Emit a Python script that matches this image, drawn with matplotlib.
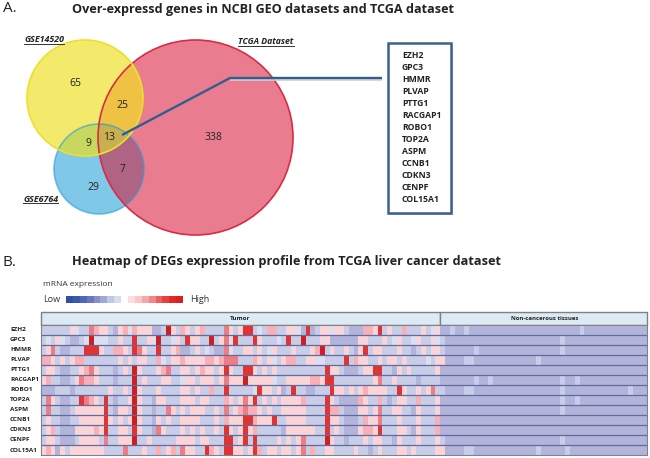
import numpy as np
import matplotlib
matplotlib.use("Agg")
import matplotlib.pyplot as plt
from matplotlib.colors import ListedColormap, BoundaryNorm
from matplotlib.patches import Circle, Polygon, Rectangle

genes = ["EZH2", "GPC3", "HMMR", "PLVAP", "PTTG1", "RACGAP1", "ROBO1", "TOP2A",
         "ASPM", "CCNB1", "CDKN3", "CENPF", "COL15A1"]
venn_counts = ["65", "25", "13", "9", "338", "7", "29"]
venn_names = ["GSE14520", "TCGA Dataset", "GSE6764"]

tumor_rows = [
    "1111113211 5433103424 3330017314 3134111153 1366121441 1332060133 2331000443 6131141113 123",
    "1213210012 7222113116 1132711231 6331171352 6111631112 1611711133 0000003311 1312311231 132",
    "1351001116 6631144316 5311611340 0131210052 1133131231 1131113471 3113103613 3111311013 133",
    "4431313441 1111113131 3311421334 3333443455 5111431321 3441133221 1116143311 3133131111 213",
    "1331001134 5311101317 3111345113 3134331363 1166313131 1111111116 3310001336 6110313111 113",
    "3411001354 4311101117 1311133112 3313331353 3373333321 1333334436 6111111113 5113111101 111",
    "0001110111 1111311317 3111311113 3131141161 1111263313 0161100111 6331313433 3311631131 351",
    "1531001165 4316101137 3110331113 3313311143 1353613131 3333411116 3100004311 4101331141 113",
    "1511001333 3336103317 3110115313 1333113151 3454431311 3333311116 4410003313 5113311031 113",
    "1311001133 3336313137 3110313113 3331113143 3366433361 1333311116 3310001433 5111311131 114",
    "1341000333 3436113316 3110531113 1313113163 1363411111 0333333116 1310003443 6111331031 114",
    "1331000133 3315113337 1131111133 3313311166 1361611113 1313511117 3110111313 3110311131 113",
    "3430313333 3331111511 1311413415 3311643166 3313641331 3313514113 3111131101 3111331311 113",
]
normal_light_cols = [
    [2, 5, 29], [0, 25], [0, 7, 25], [5, 6, 20], [], [7, 10, 25, 28], [0, 5, 6, 25, 39],
    [25, 28], [25], [], [], [0, 25], [5, 6, 20, 26],
]
normal_pink_cols = [[], [], [], [0], [], [], [], [], [], [], [], [], [0]]
n_normal = 43

legend_low = ["#3050a8", "#3a58ae", "#5068b8", "#6878c0", "#8890c8", "#a0a8d8", "#c0c8e8", "#d8dcf0"]
legend_high = ["#fcdcdc", "#f8c8c8", "#f4a8a8", "#f08888", "#e86060", "#e84040", "#e02828", "#d82020"]
level_colors = ["#b2b4da", "#c8cde8", "#dcdff0", "#fbd4d8", "#f8b0b6", "#ee7c84", "#e23232", "#cc1f24"]

FONT = "Open Sans"
plt.rcParams["font.family"] = FONT

fig = plt.figure(figsize=(6.5, 4.58), dpi=100)
ax = fig.add_axes([0, 0, 1, 1])
ax.set_xlim(0, 650)
ax.set_ylim(458, 0)
ax.axis("off")

Y = (85, 98, 58)
R = (195.5, 137.5, 97.5)
B = (99, 169, 45)


def region(circles, origin):
    th = np.linspace(0, 2 * np.pi, 360)
    d = np.c_[np.cos(th), np.sin(th)]
    ox, oy = origin
    rs = []
    for cx, cy, r in circles:
        fx, fy = ox - cx, oy - cy
        b = d[:, 0] * fx + d[:, 1] * fy
        c = fx * fx + fy * fy - r * r
        rs.append(-b + np.sqrt(b * b - c))
    rr = np.min(rs, axis=0)
    return np.c_[ox + rr * d[:, 0], oy + rr * d[:, 1]]


for c, col in [(B, "#80c8e8"), (Y, "#f3ea6c"), (R, "#e97c8e")]:
    ax.add_patch(Circle(c[:2], c[2], fc=col, ec="none", zorder=1))
for cs, o, col in [((Y, R), (122, 105), "#f0c244"), ((B, R), (123, 170), "#b06484"),
                   ((Y, B), (88, 144), "#c8d85e"), ((Y, R, B), (109, 138), "#c8b050")]:
    ax.add_patch(Polygon(region(cs, o), fc=col, ec="none", zorder=2))
for c, col, z, a in [(B, "#2a9ed8", 3, 0.6), (R, "#d82c44", 4, 1), (Y, "#ece02c", 5, 1)]:
    ax.add_patch(Circle(c[:2], c[2], fc="none", ec=col, lw=1.2, alpha=a, zorder=z))

for (x, y), s in zip([(75, 83), (122, 105), (109, 138), (88, 144), (213, 138), (123, 170), (93, 187)], venn_counts):
    ax.text(x, y, s, ha="center", va="center", fontsize=7.5, color="#222222", zorder=8)

for (x0, x1, y, fs), s in zip([(24, 64, 40, 6.4), (238, 294, 42, 6.2), (23, 58, 199, 6.4)], venn_names):
    ax.text(x0, y, s, ha="left", va="center", fontsize=fs, fontweight="bold", style="italic",
            color="#222222", zorder=8)
    ax.plot([x0, x1], [y + 4, y + 4], color="#333333", lw=0.7, zorder=8)

# connector and gene box
ax.plot([230, 382], [79.5, 79.5], color="#d0d0d0", lw=1.2, zorder=6, solid_capstyle="butt")
ax.plot([122, 230, 382], [135, 78, 78], color="#2f5f90", lw=1.7, zorder=7,
        solid_joinstyle="miter", solid_capstyle="butt")
ax.add_patch(Rectangle((390, 45), 63, 170, fc="#c8c8c8", ec="none", zorder=5))
ax.add_patch(Rectangle((388, 43), 63, 170, fc="white", ec="#3a6090", lw=1.8, zorder=6))
for i, g in enumerate(genes):
    ax.text(402, 55 + i * 12.08, g, ha="left", va="center", fontsize=6.2, fontweight="bold",
            color="#222222", zorder=8)

ax.text(3, 9, "A.", fontsize=11, va="center", color="#222222")
ax.text(3, 263, "B.", fontsize=11, va="center", color="#222222")
ax.text(72, 9, "Over-expressd genes in NCBI GEO datasets and TCGA dataset", fontsize=9.13,
        fontweight="bold", va="center", color="#222222")
ax.text(72, 262, "Heatmap of DEGs expression profile from TCGA liver cancer dataset", fontsize=9.15,
        fontweight="bold", va="center", color="#222222")

ax.text(43, 285, "mRNA expression", fontsize=6, va="center", color="#333333")
ax.text(43, 299, "Low", fontsize=6.5, va="center", color="#333333")
ax.text(190, 299.5, "High", fontsize=6.5, va="center", color="#333333")
for x0, cols in [(66, legend_low), (128, legend_high)]:
    w = 55 / len(cols)
    for i, col in enumerate(cols):
        ax.add_patch(Rectangle((x0 + i * w, 296), w, 7, fc=col, ec="none"))

for i, g in enumerate(genes):
    ax.text(10, 329.3 + i * 10.06, g, fontsize=4.6, fontweight="bold", va="center", color="#222222")

# header
ax.add_patch(Rectangle((41, 312), 399, 13, fc="#dceaf4", ec="#808080", lw=1))
ax.add_patch(Rectangle((440, 312), 207, 13, fc="#dceaf4", ec="#808080", lw=1))
ax.text(240, 318.7, "Tumor", fontsize=4.5, fontweight="bold", ha="center", va="center", color="#222222")
ax.text(545, 318.7, "Non-cancerous tissues", fontsize=4.3, fontweight="bold", ha="center", va="center", color="#222222")

# heatmap
hm = fig.add_axes([41 / 650, 1 - 454.5 / 458, 606 / 650, 129.5 / 458])
rows = []
for i, s in enumerate(tumor_rows):
    t = [int(ch) for ch in s.replace(" ", "")]
    n = [0] * n_normal
    for c in normal_light_cols[i]:
        n[c] = 1
    for c in normal_pink_cols[i]:
        n[c] = 3
    rows.append(t + n)
data = np.array(rows)
cmap = ListedColormap(level_colors)
norm = BoundaryNorm(np.arange(-0.5, 8.5), cmap.N)
hm.pcolormesh(np.arange(data.shape[1] + 1), np.arange(data.shape[0] + 1), data, cmap=cmap, norm=norm)
hm.set_xlim(0, data.shape[1])
hm.set_ylim(data.shape[0], 0)
hm.set_xticks([])
hm.set_yticks([])
for sp in hm.spines.values():
    sp.set_color("#808090")
    sp.set_linewidth(0.8)
for y in range(1, data.shape[0]):
    hm.axhline(y, color="#5f6c9e", lw=0.9)

fig.savefig("out.png", dpi=100)
